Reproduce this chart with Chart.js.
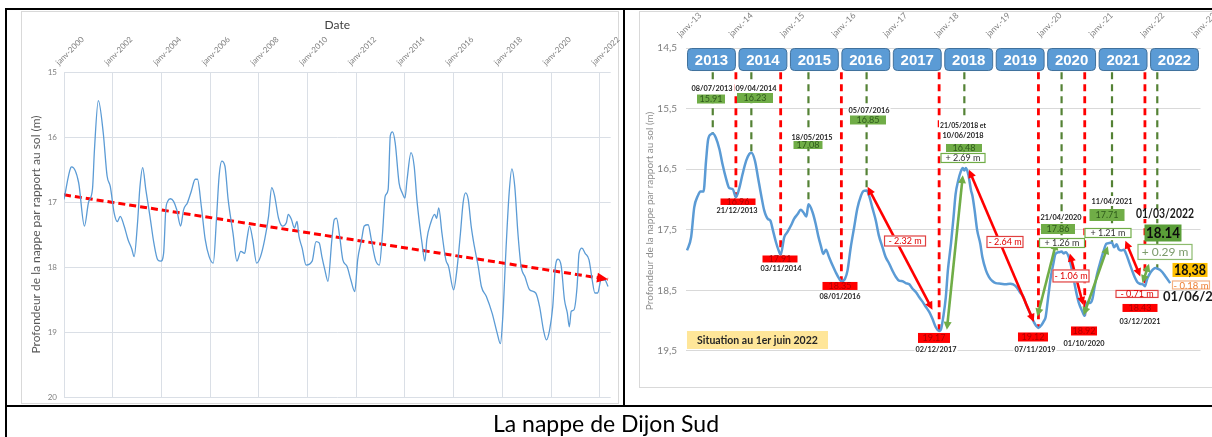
<!DOCTYPE html>
<html><head><meta charset="utf-8">
<script src="https://cdn.jsdelivr.net/npm/chart.js@4.4.1/dist/chart.umd.min.js"></script>
<style>
html,body{margin:0;padding:0;background:#fff;}
body{width:1212px;height:437px;position:relative;overflow:hidden;}
.b{position:absolute;background:#000;}
.f{position:absolute;border:1px solid #D9D9D9;box-sizing:border-box;}
canvas{position:absolute;}
#cap{position:absolute;left:0;top:407px;width:1212px;height:30px;text-align:center;font:23px Lato,'Liberation Sans',sans-serif;line-height:32px;color:#000;}
</style></head><body>
<div class="f" style="left:21px;top:11px;width:598px;height:393px"></div>
<div class="f" style="left:639px;top:11px;width:600px;height:377px"></div>
<canvas id="cl" width="604" height="395" style="left:20px;top:10px"></canvas>
<canvas id="cr" width="574" height="388" style="left:638px;top:0px"></canvas>
<div class="b" style="left:5px;top:8px;width:1207px;height:2px"></div>
<div class="b" style="left:5px;top:8px;width:2px;height:429px"></div>
<div class="b" style="left:623px;top:8px;width:2px;height:398px"></div>
<div class="b" style="left:5px;top:405px;width:1207px;height:2px"></div>
<div id="cap">La nappe de Dijon Sud</div>
<script>
// ================= DATA =================
// Left chart: depth of the water table 2000-2022 (decimal years, metres below ground)
const leftDates = [2000.00,2000.28,2000.32,2000.60,2000.84,2001.01,2001.17,2001.25,2001.41,2001.61,2001.77,2001.90,
2002.06,2002.19,2002.31,2002.47,2002.63,2002.79,2002.88,2003.01,2003.12,2003.23,2003.36,2003.53,2003.69,2003.85,2003.98,
2004.09,2004.18,2004.26,2004.37,2004.50,2004.63,2004.79,2004.91,2005.07,2005.23,2005.39,2005.48,2005.64,2005.80,2005.96,
2006.13,2006.26,2006.37,2006.48,2006.61,2006.74,2006.94,2007.10,2007.26,2007.42,2007.51,2007.62,2007.75,2007.91,
2008.07,2008.24,2008.40,2008.53,2008.64,2008.81,2008.97,2009.13,2009.21,2009.34,2009.46,2009.57,2009.65,2009.78,2009.94,
2010.19,2010.35,2010.48,2010.59,2010.71,2010.84,2011.00,2011.10,2011.19,2011.32,2011.45,2011.62,2011.78,2011.94,
2012.06,2012.22,2012.33,2012.49,2012.62,2012.79,2012.95,2013.08,2013.19,2013.31,2013.40,2013.49,2013.60,2013.76,2013.89,
2014.00,2014.09,2014.25,2014.38,2014.49,2014.61,2014.70,2014.82,2014.90,2015.06,2015.22,2015.30,2015.39,2015.52,2015.68,2015.79,
2016.00,2016.12,2016.28,2016.39,2016.49,2016.60,2016.72,2016.85,2017.01,2017.14,2017.34,2017.58,2017.79,2017.92,
2018.02,2018.15,2018.28,2018.39,2018.51,2018.64,2018.77,2018.93,2019.12,2019.37,2019.53,2019.69,2019.81,2019.94,
2020.07,2020.18,2020.29,2020.42,2020.55,2020.67,2020.75,2020.83,2020.94,2021.07,2021.15,2021.27,2021.40,2021.56,2021.69,2021.80,2021.92,
2022.05,2022.21,2022.34];
const leftDepths = [16.96,16.47,16.46,16.70,17.37,17.00,16.80,16.20,15.44,15.93,16.60,16.76,
17.17,17.30,17.22,17.37,17.58,17.73,17.84,17.37,16.76,16.47,16.81,17.22,17.63,17.89,17.91,
17.79,17.12,16.99,16.95,16.99,17.12,17.37,17.12,17.01,16.83,16.65,16.65,17.07,17.58,17.84,
17.94,17.27,16.60,16.37,16.45,16.96,17.48,17.91,17.76,17.79,17.58,17.37,17.58,17.94,
17.84,17.58,17.22,16.78,16.89,17.25,17.37,17.32,17.19,17.27,17.40,17.30,17.53,17.71,17.97,
17.91,17.61,17.63,17.84,18.04,18.22,17.58,17.27,17.25,17.53,17.89,17.99,18.20,18.38,
17.89,17.58,17.37,17.35,17.58,17.89,17.97,17.48,16.91,16.81,15.98,15.92,16.09,16.71,16.86,
16.94,16.65,16.24,16.45,16.96,17.37,17.63,17.91,17.58,17.32,17.19,17.25,17.09,17.48,17.89,17.99,
18.35,18.09,17.48,17.01,16.86,16.96,17.37,17.68,17.99,18.30,18.45,18.71,19.02,19.18,
18.76,17.73,16.86,16.49,16.76,17.48,17.99,18.15,18.35,18.40,18.61,18.97,19.12,18.97,
18.61,17.99,17.88,17.99,18.50,18.71,18.92,18.68,18.66,18.30,17.79,17.71,17.79,17.89,18.20,18.40,18.40,
18.20,18.20,18.30];
const leftYearTicks = [2000,2002,2004,2006,2008,2010,2012,2014,2016,2018,2020,2022];
const leftDepthTicks = [15,16,17,18,19,20];
const trendDates = [2000.0, 2022.34];
const trendDepths = [16.89, 18.19];

// Right chart: 2013-2022 detail
const rightDates = [2013.02,2013.10,2013.16,2013.23,2013.28,2013.34,2013.39,2013.43,2013.49,2013.52,2013.58,2013.65,2013.71,2013.78,2013.84,2013.91,2013.97,
2014.04,2014.10,2014.17,2014.23,2014.27,2014.34,2014.40,2014.47,2014.52,2014.59,2014.64,2014.69,2014.75,2014.80,2014.84,2014.91,2014.97,
2015.04,2015.10,2015.17,2015.23,2015.28,2015.34,2015.38,2015.46,2015.52,2015.57,2015.62,2015.67,2015.72,2015.78,2015.85,2015.91,2015.98,
2016.02,2016.09,2016.14,2016.20,2016.27,2016.33,2016.40,2016.45,2016.51,2016.56,2016.62,2016.69,2016.75,2016.82,2016.88,2016.95,
2017.01,2017.08,2017.14,2017.21,2017.27,2017.34,2017.40,2017.47,2017.53,2017.60,2017.66,2017.73,2017.79,2017.85,2017.92,2017.96,
2018.00,2018.05,2018.09,2018.15,2018.20,2018.24,2018.29,2018.34,2018.38,2018.41,2018.44,2018.49,2018.54,2018.57,2018.61,2018.66,2018.72,2018.76,2018.83,2018.89,2018.96,
2019.02,2019.12,2019.21,2019.30,2019.36,2019.43,2019.49,2019.56,2019.62,2019.70,2019.76,2019.81,2019.85,2019.91,2019.96,2019.99,
2020.04,2020.09,2020.14,2020.18,2020.25,2020.30,2020.34,2020.38,2020.44,2020.49,2020.54,2020.59,2020.64,2020.70,2020.75,2020.78,2020.81,2020.85,2020.90,2020.94,2020.99,
2021.06,2021.12,2021.17,2021.22,2021.28,2021.32,2021.37,2021.41,2021.46,2021.51,2021.56,2021.61,2021.67,2021.72,2021.77,2021.82,2021.88,2021.92,2021.96,2021.98,
2022.03,2022.08,2022.13,2022.16,2022.21,2022.26,2022.32,2022.41];
const rightDepths = [17.84,17.62,17.13,16.94,16.87,16.87,16.36,16.01,15.92,15.91,15.98,16.17,16.42,16.66,16.81,16.83,16.96,
16.80,16.58,16.36,16.25,16.23,16.36,16.64,16.97,17.18,17.32,17.35,17.51,17.71,17.84,17.91,17.62,17.54,
17.43,17.32,17.24,17.17,17.21,17.28,17.08,17.21,17.40,17.60,17.76,17.90,17.83,17.95,18.09,18.20,18.31,
18.35,18.31,18.17,17.80,17.45,17.15,16.94,16.86,16.85,16.94,17.13,17.35,17.60,17.79,17.95,18.06,
18.17,18.28,18.34,18.35,18.38,18.40,18.47,18.53,18.61,18.69,18.77,18.86,18.97,19.10,19.17,19.13,
18.94,18.61,18.17,17.73,17.29,16.91,16.69,16.54,16.48,16.52,16.48,16.60,16.85,16.95,17.18,17.51,17.73,17.95,18.17,18.28,18.35,
18.38,18.39,18.40,18.39,18.40,18.45,18.53,18.61,18.75,18.90,19.02,19.09,19.12,19.07,19.00,18.94,
18.61,18.28,18.06,17.90,17.87,17.86,17.89,17.87,17.95,18.12,18.34,18.55,18.72,18.84,18.92,18.75,18.69,18.71,18.64,18.45,18.23,
18.01,17.84,17.73,17.72,17.71,17.79,17.74,17.82,17.84,17.83,17.91,18.03,18.17,18.28,18.36,18.39,18.40,18.43,18.32,18.28,
18.20,18.15,18.13,18.14,18.16,18.20,18.27,18.38];
const rightYearTicks = [2013,2014,2015,2016,2017,2018,2019,2020,2021,2022,2023];
const rightDepthTicks = [14.5,15.5,16.5,17.5,18.5,19.5];
const yearBoxYears = [2013,2014,2015,2016,2017,2018,2019,2020,2021,2022];

const peakDates = [2013.52,2014.27,2015.38,2016.51,2018.41,2020.30,2021.28,2022.16];
const peakDepths = [15.91,16.23,17.08,16.85,16.48,17.86,17.71,18.14];
const peakDateLabels = ['08/07/2013','09/04/2014','18/05/2015','05/07/2016','21/05/2018 et\n10/06/2018','21/04/2020','11/04/2021','01/03/2022'];
const peakValueLabels = ['15.91','16.23','17,08','16.85','16,48','17.86','17.71','18.14'];
const riseLabels = [null,null,null,null,'+ 2.69 m','+ 1.26 m','+ 1.21 m','+ 0.29 m'];

const troughDates = [2013.97,2014.84,2016.02,2017.92,2019.85,2020.75,2021.92];
const troughDepths = [16.96,17.91,18.35,19.17,19.12,18.92,18.43];
const troughDateLabels = ['21/12/2013','03/11/2014','08/01/2016','02/12/2017','07/11/2019','01/10/2020','03/12/2021'];
const troughValueLabels = ['16.96','17.91','18.35','19.17','19.12','18.92','18.43'];
const fallLabels = ['- 2.32 m','- 2.64 m','- 1.06 m','- 0.71 m'];

// arrows: [start date, start depth, end date, end depth]
const fallArrows = [[2016.53,16.79,2017.79,18.82],[2018.50,16.51,2019.76,19.02],[2020.46,17.89,2020.72,18.74],[2021.54,17.68,2021.83,18.27]];
const riseArrows = [[2018.07,19.15,2018.38,16.60],[2019.83,18.93,2020.20,17.70],[2020.73,18.91,2021.20,17.77],[2021.87,18.38,2022.00,18.06]];

const currentDateLabel = '01/06/2022';
const currentValueLabel = '18,38';
const currentChangeLabel = '- 0.18 m';
const situationText = 'Situation au 1er juin 2022';

// ================= LAYOUT (label anchors in data units, sizes in px) =================
const L = {
  lineTop: 14.9,
  yearBox: [0.02, 0.97, 14.5, 14.88],
  peakDateAt: [[2013.505,15.16],[2014.361,15.16],[2015.449,15.969],[2016.557,15.523],[2018.384,15.771],[2020.289,17.289],[2021.28,17.025],[2022.31,17.239]],
  peakBoxAt: [[2013.486,15.342,28,9],[2014.341,15.325,36,10],[2015.371,16.101,29,8],[2016.537,15.688,36,9],[2018.403,16.15,36,8],[2020.23,17.487,34,10],[2021.183,17.256,35,12],[2022.271,17.553,37,17]],
  riseBoxAt: [null,null,null,null,[2018.384,16.315,45,10],[2020.308,17.718,46,10],[2021.202,17.553,47,10],[2022.31,17.866,55,16]],
  troughBoxAt: [[2014.011,17.041,35,7],[2014.827,17.982,35,7],[2015.993,18.427,35,8],[2017.82,19.285,32,10],[2019.744,19.269,30,9],[2020.736,19.17,26,9],[2021.824,18.79,35,8]],
  troughDateAt: [[2013.991,17.173],[2014.846,18.13],[2015.993,18.592],[2017.859,19.467],[2019.783,19.467],[2020.736,19.368],[2021.824,19.005]],
  fallBoxAt: [[2017.257,17.685,42,11],[2019.2,17.701,37,12],[2020.483,18.262,37,13],[2021.766,18.559,43,8]],
  curValueAt: [2022.796,18.163,35,14],
  curChangeAt: [2022.815,18.411,38,9],
  curDateAt: [2022.271,18.609],
  situation: [2013.019,2015.76,19.17,19.467]
};

const FONT = "Lato, 'Liberation Sans', sans-serif";
Chart.defaults.font.family = FONT;

function box(ctx, cx, cy, w, h, fill, stroke, text, font, color) {
  ctx.save();
  if (fill) { ctx.fillStyle = fill; ctx.fillRect(cx - w / 2, cy - h / 2, w, h); }
  if (stroke) { ctx.strokeStyle = stroke; ctx.lineWidth = 1.2; ctx.setLineDash([]); ctx.strokeRect(cx - w / 2 + 0.5, cy - h / 2 + 0.5, w - 1, h - 1); }
  ctx.font = font; ctx.fillStyle = color; ctx.textAlign = 'center'; ctx.textBaseline = 'middle';
  ctx.fillText(text, cx, cy + 0.5, w - 3);
  ctx.restore();
}
function dateText(ctx, x, y, text, font, maxW, color) {
  ctx.save();
  ctx.font = font;
  const w = Math.min(ctx.measureText(text).width, maxW);
  ctx.fillStyle = '#fff'; ctx.fillRect(x - w / 2 - 1, y - 5, w + 2, 10);
  ctx.fillStyle = color || '#1F1F1F'; ctx.textAlign = 'center'; ctx.textBaseline = 'middle';
  ctx.fillText(text, x, y, maxW);
  ctx.restore();
}
function arrow(ctx, x1, y1, x2, y2, color, w) {
  ctx.save();
  ctx.strokeStyle = color; ctx.fillStyle = color; ctx.lineWidth = w; ctx.setLineDash([]);
  const a = Math.atan2(y2 - y1, x2 - x1), HL = 8, HW = 4;
  ctx.beginPath();
  ctx.moveTo(x1 + Math.cos(a) * HL * 0.7, y1 + Math.sin(a) * HL * 0.7);
  ctx.lineTo(x2 - Math.cos(a) * HL * 0.7, y2 - Math.sin(a) * HL * 0.7);
  ctx.stroke();
  function head(x, y, ang) {
    ctx.beginPath();
    ctx.moveTo(x, y);
    ctx.lineTo(x - HL * Math.cos(ang) + HW * Math.sin(ang), y - HL * Math.sin(ang) - HW * Math.cos(ang));
    ctx.lineTo(x - HL * Math.cos(ang) - HW * Math.sin(ang), y - HL * Math.sin(ang) + HW * Math.cos(ang));
    ctx.closePath(); ctx.fill();
  }
  head(x2, y2, a); head(x1, y1, a + Math.PI);
  ctx.restore();
}

const trendArrowPlugin = {
  id: 'trendArrow',
  afterDatasetsDraw(chart) {
    const pts = chart.getDatasetMeta(1).data;
    if (pts.length < 2) return;
    const p1 = pts[pts.length - 2], p2 = pts[pts.length - 1];
    const ctx = chart.ctx, a = Math.atan2(p2.y - p1.y, p2.x - p1.x), HL = 11, HW = 5;
    ctx.save(); ctx.fillStyle = '#FF0000';
    ctx.beginPath();
    ctx.moveTo(p2.x, p2.y);
    ctx.lineTo(p2.x - HL * Math.cos(a) + HW * Math.sin(a), p2.y - HL * Math.sin(a) - HW * Math.cos(a));
    ctx.lineTo(p2.x - HL * Math.cos(a) - HW * Math.sin(a), p2.y - HL * Math.sin(a) + HW * Math.cos(a));
    ctx.closePath(); ctx.fill(); ctx.restore();
  }
};

const annotPlugin = {
  id: 'annot',
  beforeDatasetsDraw(chart) {
    const ctx = chart.ctx, X = v => chart.scales.x.getPixelForValue(v), Y = v => chart.scales.y.getPixelForValue(v);
    ctx.save();
    ctx.strokeStyle = '#548235'; ctx.lineWidth = 2.2; ctx.setLineDash([7, 5]);
    peakDates.forEach((d, i) => { ctx.beginPath(); ctx.moveTo(X(d), Y(L.lineTop)); ctx.lineTo(X(d), Y(peakDepths[i])); ctx.stroke(); });
    ctx.strokeStyle = '#FF0000'; ctx.lineWidth = 2.8;
    troughDates.forEach((d, i) => { ctx.beginPath(); ctx.moveTo(X(d), Y(L.lineTop)); ctx.lineTo(X(d), Y(troughDepths[i])); ctx.stroke(); });
    ctx.restore();
    // situation box
    const s = L.situation;
    ctx.save();
    ctx.fillStyle = '#FFE699';
    ctx.fillRect(X(s[0]), Y(s[2]), X(s[1]) - X(s[0]), Y(s[3]) - Y(s[2]));
    ctx.font = 'bold 10.5px ' + FONT; ctx.fillStyle = '#262626'; ctx.textAlign = 'center'; ctx.textBaseline = 'middle';
    ctx.fillText(situationText, (X(s[0]) + X(s[1])) / 2, (Y(s[2]) + Y(s[3])) / 2 + 0.5, 122);
    ctx.restore();
  },
  afterDatasetsDraw(chart) {
    const ctx = chart.ctx, X = v => chart.scales.x.getPixelForValue(v), Y = v => chart.scales.y.getPixelForValue(v);
    fallArrows.forEach(a => arrow(ctx, X(a[0]), Y(a[1]), X(a[2]), Y(a[3]), '#FF0000', 2.6));
    riseArrows.forEach(a => arrow(ctx, X(a[0]), Y(a[1]), X(a[2]), Y(a[3]), '#70AD47', 2.6));
    const dFont = 'bold 8px ' + FONT, vFont = '9px ' + FONT;
    // peaks
    peakDates.forEach((d, i) => {
      const pa = L.peakDateAt[i];
      const lines = peakDateLabels[i].split('\n');
      if (i === peakDates.length - 1) {
        dateText(ctx, X(pa[0]), Y(pa[1]), lines[0], 'bold 14px ' + FONT, 58, '#1A1A1A');
      } else {
        lines.forEach((t, k) => dateText(ctx, X(pa[0]), Y(pa[1]) + k * 10, t, dFont, k === 0 && lines.length > 1 ? 46 : 41));
      }
      const b = L.peakBoxAt[i];
      if (i === peakDates.length - 1) box(ctx, X(b[0]), Y(b[1]), b[2], b[3], '#5A9E38', null, peakValueLabels[i], 'bold 15px ' + FONT, '#0D0D0D');
      else box(ctx, X(b[0]), Y(b[1]), b[2], b[3], '#70AD47', null, peakValueLabels[i], vFont, '#2F5A1C');
      const r = L.riseBoxAt[i];
      if (r) {
        if (i === peakDates.length - 1) box(ctx, X(r[0]), Y(r[1]), r[2], r[3], '#fff', '#8DBB6E', riseLabels[i], '12px ' + FONT, '#7B9A6B');
        else box(ctx, X(r[0]), Y(r[1]), r[2], r[3], '#fff', '#70AD47', riseLabels[i], '9px ' + FONT, '#333');
      }
    });
    // troughs
    troughDates.forEach((d, i) => {
      const b = L.troughBoxAt[i];
      box(ctx, X(b[0]), Y(b[1]), b[2], b[3], '#FF0000', null, troughValueLabels[i], vFont, '#B00000');
      const t = L.troughDateAt[i];
      dateText(ctx, X(t[0]), Y(t[1]), troughDateLabels[i], dFont, 41);
    });
    fallLabels.forEach((t, i) => {
      const b = L.fallBoxAt[i];
      box(ctx, X(b[0]), Y(b[1]), b[2], b[3], '#fff', '#E04040', t, '9px ' + FONT, '#E00000');
    });
    // current state
    const cv = L.curValueAt, cc = L.curChangeAt, cd = L.curDateAt;
    box(ctx, X(cv[0]), Y(cv[1]), cv[2], cv[3], '#FFC000', null, currentValueLabel, 'bold 15px ' + FONT, '#0D0D0D');
    box(ctx, X(cc[0]), Y(cc[1]), cc[2], cc[3], '#fff', '#F4B183', currentChangeLabel, '10px ' + FONT, '#ED7D31');
    ctx.save();
    ctx.font = 'bold 13px ' + FONT; ctx.fillStyle = '#1A1A1A'; ctx.textAlign = 'left'; ctx.textBaseline = 'middle';
    ctx.fillText(currentDateLabel, X(cd[0]), Y(cd[1]));
    ctx.restore();
  },
  afterDraw(chart) {
    const ctx = chart.ctx, X = v => chart.scales.x.getPixelForValue(v), Y = v => chart.scales.y.getPixelForValue(v);
    const yb = L.yearBox;
    ctx.save();
    yearBoxYears.forEach(yr => {
      const x0 = X(yr + yb[0]), x1 = X(yr + yb[1]), y0 = Y(yb[2]), y1 = Y(yb[3]);
      ctx.beginPath(); ctx.roundRect(x0 + 0.5, y0 + 0.5, x1 - x0 - 1, y1 - y0 - 1, 4);
      ctx.fillStyle = '#5B9BD5'; ctx.fill();
      ctx.strokeStyle = '#41719C'; ctx.lineWidth = 1; ctx.stroke();
      ctx.font = 'bold 15px "Liberation Sans", Arial, sans-serif'; ctx.fillStyle = '#fff';
      ctx.textAlign = 'center'; ctx.textBaseline = 'middle';
      ctx.fillText(String(yr), (x0 + x1) / 2, (y0 + y1) / 2 + 1, x1 - x0 - 6);
    });
    ctx.restore();
  }
};

// ================= LEFT CHART =================
new Chart(document.getElementById('cl'), {
  type: 'line',
  data: { datasets: [
    { data: leftDates.map((d, i) => ({ x: d, y: leftDepths[i] })), borderColor: '#5B9BD5', borderWidth: 1.3, pointRadius: 0, cubicInterpolationMode: 'monotone' },
    { data: trendDates.map((d, i) => ({ x: d, y: trendDepths[i] })), borderColor: '#FF0000', borderWidth: 3, borderDash: [7, 4], pointRadius: 0 }
  ] },
  options: {
    responsive: false, animation: false, devicePixelRatio: 1,
    layout: { padding: { left: 0, top: 0, right: 13.3, bottom: 8 } },
    plugins: { legend: { display: false }, tooltip: { enabled: false } },
    scales: {
      x: { type: 'linear', position: 'top', min: 2000, max: 2022.45,
        afterBuildTicks: s => { s.ticks = leftYearTicks.map(v => ({ value: v })); },
        afterFit: s => { s.height = 62; s.paddingLeft = 0; s.paddingRight = 0; s.paddingTop = 0; s.paddingBottom = 0; },
        ticks: { autoSkip: false, minRotation: 45, maxRotation: 45, padding: 5, color: '#7F7F7F', font: { size: 8 }, callback: v => 'janv-' + v },
        grid: { color: '#DADFE6', drawTicks: false },
        border: { display: false },
        title: { display: true, text: 'Date', color: '#404040', font: { size: 12 }, padding: { top: 8, bottom: 0 } }
      },
      y: { type: 'linear', reverse: true, min: 15, max: 20,
        afterBuildTicks: s => { s.ticks = leftDepthTicks.map(v => ({ value: v })); },
        afterFit: s => { s.width = 44; s.paddingTop = 0; s.paddingBottom = 0; },
        ticks: { padding: 7, color: '#7F7F7F', font: { size: 8 } },
        grid: { color: '#DADFE6', drawTicks: false },
        border: { display: false },
        title: { display: true, text: 'Profondeur de la nappe par rapport au sol (m)', color: '#595959', font: { size: 12 }, padding: { top: 9, bottom: 0 } }
      }
    }
  },
  plugins: [trendArrowPlugin]
});

// ================= RIGHT CHART =================
new Chart(document.getElementById('cr'), {
  type: 'line',
  data: { datasets: [
    { data: rightDates.map((d, i) => ({ x: d, y: rightDepths[i] })), borderColor: '#5B9BD5', borderWidth: 2.5, pointRadius: 0, cubicInterpolationMode: 'monotone' }
  ] },
  options: {
    responsive: false, animation: false, devicePixelRatio: 1,
    layout: { padding: { left: 0, top: 0, right: 11.5, bottom: 14 } },
    plugins: { legend: { display: false }, tooltip: { enabled: false } },
    scales: {
      x: { type: 'linear', position: 'top', min: 2013, max: 2023,
        afterBuildTicks: s => { s.ticks = rightYearTicks.map(v => ({ value: v })); },
        afterFit: s => { s.height = 48; s.paddingLeft = 0; s.paddingRight = 0; s.paddingTop = 0; s.paddingBottom = 0; },
        ticks: { autoSkip: false, minRotation: 45, maxRotation: 45, padding: 9, color: '#7F7F7F', font: { size: 8.5 }, callback: v => 'janv.-' + String(v).slice(2) },
        grid: { display: false, drawTicks: false },
        border: { display: false }
      },
      y: { type: 'linear', reverse: true, min: 14.5, max: 19.88,
        afterBuildTicks: s => { s.ticks = rightDepthTicks.map(v => ({ value: v })); },
        afterFit: s => { s.width = 48; s.paddingTop = 0; s.paddingBottom = 0; },
        ticks: { padding: 9, color: '#7F7F7F', font: { size: 10 }, callback: v => Number(v).toFixed(1).replace('.', ',') },
        grid: { color: '#D9D9D9', drawTicks: false },
        border: { display: false },
        title: { display: true, text: 'Profondeur de la nappe par rapport au sol (m)', color: '#8C8C8C', font: { size: 10 }, padding: { top: 6, bottom: 0 } }
      }
    }
  },
  plugins: [annotPlugin]
});
</script>
</body></html>
